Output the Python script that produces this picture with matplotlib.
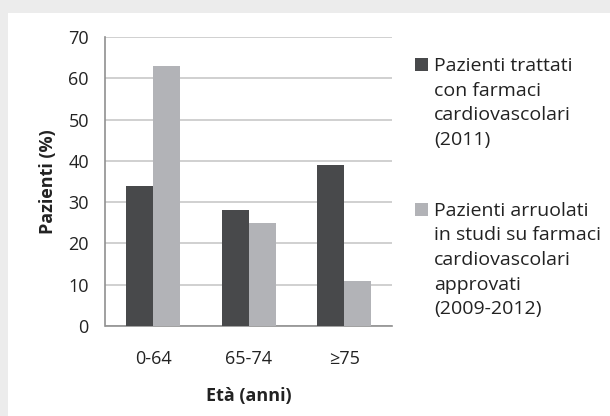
import matplotlib
matplotlib.use("Agg")
import matplotlib.pyplot as plt
import numpy as np
from matplotlib.patches import Rectangle

# dati
categorie = ["0-64", "65-74", "≥75"]
trattati = [34, 28, 39]
arruolati = [63, 25, 11]
etichette = [
    "Pazienti trattati\ncon farmaci\ncardiovascolari\n(2011)",
    "Pazienti arruolati\nin studi su farmaci\ncardiovascolari\napprovati\n(2009-2012)",
]

DARK = "#48494b"
LIGHT = "#b2b3b7"
TXT = "#222222"
W, H = 610, 416
plt.rcParams["font.family"] = ["Open Sans", "DejaVu Sans"]

fig = plt.figure(figsize=(W / 100, H / 100), dpi=100)
fig.patch.set_facecolor("#ececec")
# riquadro bianco con ombra in alto/a sinistra
fig.patches.append(Rectangle((8 / W, 0), 1, 1 - 13 / H, transform=fig.transFigure,
                             facecolor="white", edgecolor="none", zorder=-10))

ax = fig.add_axes([105.5 / W, 90 / H, (392 - 105.5) / W, (326 - 37) / H])
ax.set_facecolor("none")

x = np.arange(len(categorie))
w = 0.283
ax.bar(x - w / 2, trattati, w, color=DARK, zorder=3)
ax.bar(x + w / 2, arruolati, w, color=LIGHT, zorder=3)

ax.set_xlim(-0.5, 2.5)
ax.set_ylim(0, 70)
ax.set_yticks(range(0, 71, 10))
ax.set_xticks(x)
ax.set_xticklabels(categorie)
ax.yaxis.grid(True, color="#c8c8c8", linewidth=1.2, zorder=0)
ax.tick_params(length=0, labelsize=13, colors=TXT, pad=12)
ax.tick_params(axis="x", pad=17)
for s in ["top", "right"]:
    ax.spines[s].set_visible(False)
for s in ["left", "bottom"]:
    ax.spines[s].set_color("#909090")
    ax.spines[s].set_linewidth(1.2)

ax.set_ylabel("Pazienti (%)", fontsize=13, fontweight="bold", color=TXT, labelpad=8)
ax.set_xlabel("Età (anni)", fontsize=13, fontweight="bold", color=TXT, labelpad=14)

# legenda manuale: quadratino allineato alla prima riga, una riga alla volta
for col, lab, base in [(DARK, etichette[0], 71), (LIGHT, etichette[1], 216)]:
    fig.patches.append(Rectangle((415 / W, (H - base) / H), 13 / W, 13 / H,
                                 transform=fig.transFigure, facecolor=col, edgecolor="none"))
    for i, riga in enumerate(lab.split("\n")):
        fig.text(434 / W, (H - base - i * 24.5) / H, riga, fontsize=14, color=TXT,
                 va="baseline", ha="left")

fig.savefig("out.png", dpi=100)
